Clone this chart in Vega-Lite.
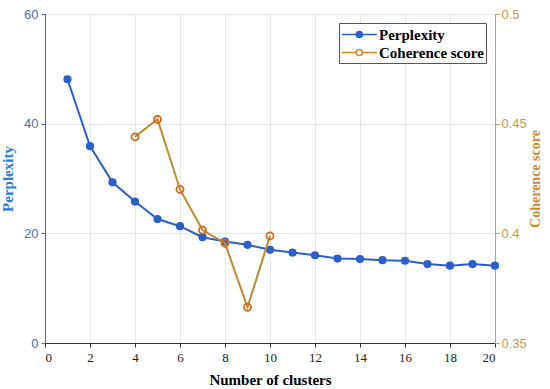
{
  "$schema": "https://vega.github.io/schema/vega-lite/v6.json",
  "width": 450,
  "height": 329,
  "autosize": "none",
  "padding": {"left": 45, "top": 14, "right": 55, "bottom": 46},
  "background": "white",
  "config": {"view": {"stroke": null}},
  "datasets": {
    "perp": [
      {"k": 1, "v": 48.1, "series": "Perplexity"},
      {"k": 2, "v": 35.9, "series": "Perplexity"},
      {"k": 3, "v": 29.3, "series": "Perplexity"},
      {"k": 4, "v": 25.8, "series": "Perplexity"},
      {"k": 5, "v": 22.6, "series": "Perplexity"},
      {"k": 6, "v": 21.3, "series": "Perplexity"},
      {"k": 7, "v": 19.3, "series": "Perplexity"},
      {"k": 8, "v": 18.5, "series": "Perplexity"},
      {"k": 9, "v": 17.9, "series": "Perplexity"},
      {"k": 10, "v": 17.0, "series": "Perplexity"},
      {"k": 11, "v": 16.5, "series": "Perplexity"},
      {"k": 12, "v": 16.0, "series": "Perplexity"},
      {"k": 13, "v": 15.4, "series": "Perplexity"},
      {"k": 14, "v": 15.3, "series": "Perplexity"},
      {"k": 15, "v": 15.1, "series": "Perplexity"},
      {"k": 16, "v": 15.0, "series": "Perplexity"},
      {"k": 17, "v": 14.4, "series": "Perplexity"},
      {"k": 18, "v": 14.1, "series": "Perplexity"},
      {"k": 19, "v": 14.4, "series": "Perplexity"},
      {"k": 20, "v": 14.1, "series": "Perplexity"}
    ],
    "coh": [
      {"k": 4, "v": 0.444, "series": "Coherence score"},
      {"k": 5, "v": 0.452, "series": "Coherence score"},
      {"k": 6, "v": 0.420, "series": "Coherence score"},
      {"k": 7, "v": 0.4015, "series": "Coherence score"},
      {"k": 8, "v": 0.3955, "series": "Coherence score"},
      {"k": 9, "v": 0.3663, "series": "Coherence score"},
      {"k": 10, "v": 0.3988, "series": "Coherence score"}
    ]
  },
  "encoding": {
    "x": {
      "field": "k", "type": "quantitative",
      "scale": {"domain": [0, 20], "nice": false},
      "axis": {
        "values": [0, 2, 4, 6, 8, 10, 12, 14, 16, 18, 20],
        "title": "Number of clusters",
        "titleFont": "Liberation Serif", "titleFontSize": 15, "titleFontWeight": "bold", "titleColor": "#000",
        "titlePadding": 8,
        "labelFont": "Liberation Serif", "labelFontSize": 13, "labelColor": "#222",
        "domainColor": "#333", "tickColor": "#333", "tickSize": 4,
        "grid": true, "gridColor": "#e3e6ee", "labelPadding": 4
      }
    },
    "stroke": {
      "field": "series", "type": "nominal",
      "scale": {"domain": ["Perplexity", "Coherence score"], "range": ["#2a5fcc", "#d9822b"]},
      "legend": {
        "title": null, "orient": "top-right", "offset": 9,
        "symbolType": "M-1,0H0.67M1.37,0H3.05M1.37,0A0.35,0.35 0 1,1 0.67,0A0.35,0.35 0 1,1 1.37,0",
        "symbolSize": 300, "symbolStrokeWidth": 1.6,
        "labelFont": "Liberation Serif", "labelFontSize": 15, "labelFontWeight": "bold", "labelColor": "#000",
        "labelOffset": 19,
        "strokeColor": "#555", "fillColor": "white", "padding": 2, "rowPadding": 0
      }
    }
  },
  "layer": [
    {
      "data": {"name": "perp"},
      "encoding": {
        "y": {
          "field": "v", "type": "quantitative",
          "scale": {"domain": [0, 60], "nice": false},
          "axis": {
            "values": [0, 20, 40, 60],
            "title": "Perplexity", "orient": "left",
            "titleFont": "Liberation Serif", "titleFontSize": 15, "titleFontWeight": "bold", "titleColor": "#2a7de0",
            "titlePadding": 8,
            "labelFont": "Liberation Sans", "labelFontSize": 13, "labelColor": "#3a70c8",
            "domainColor": "#3a6cc0", "tickColor": "#3a6cc0", "tickSize": 4, "labelPadding": 3,
            "grid": true, "gridColor": "#e3e6ee"
          }
        }
      },
      "layer": [
        {"mark": {"type": "line", "strokeWidth": 2}},
        {"mark": {"type": "point", "size": 45, "strokeWidth": 1.5, "opacity": 1},
         "encoding": {"fill": {"field": "series", "type": "nominal",
           "scale": {"domain": ["Perplexity", "Coherence score"], "range": ["#2a5fcc", "white"]},
           "legend": {
             "title": null, "orient": "top-right", "offset": 9,
             "symbolType": "M-1,0H0.67M1.37,0H3.05M1.37,0A0.35,0.35 0 1,1 0.67,0A0.35,0.35 0 1,1 1.37,0",
             "symbolSize": 300, "symbolStrokeWidth": 1.6,
             "labelFont": "Liberation Serif", "labelFontSize": 15, "labelFontWeight": "bold", "labelColor": "#000",
             "labelOffset": 19,
             "strokeColor": "#555", "fillColor": "white", "padding": 2, "rowPadding": 0
           }}}}
      ]
    },
    {
      "data": {"name": "coh"},
      "encoding": {
        "y": {
          "field": "v", "type": "quantitative",
          "scale": {"domain": [0.35, 0.5], "nice": false},
          "axis": {
            "values": [0.35, 0.4, 0.45, 0.5],
            "format": ".2~f",
            "title": "Coherence score", "orient": "right",
            "titleFont": "Liberation Serif", "titleFontSize": 14, "titleFontWeight": "bold", "titleColor": "#d08a30",
            "titleAngle": 270, "titlePadding": 16,
            "labelFont": "Liberation Sans", "labelFontSize": 13, "labelColor": "#c49a50",
            "domainColor": "#c8a060", "tickColor": "#c8a060", "tickSize": 4, "labelPadding": 2,
            "grid": false
          }
        }
      },
      "layer": [
        {"mark": {"type": "line", "strokeWidth": 2}, "encoding": {"stroke": {"value": "#bf8a2c"}}},
        {"mark": {"type": "point", "filled": false, "size": 50, "strokeWidth": 1.8, "fill": "white", "fillOpacity": 0, "opacity": 1},
         "encoding": {"stroke": {"value": "#d46a20"}}}
      ]
    }
  ],
  "resolve": {"scale": {"y": "independent"}}
}
